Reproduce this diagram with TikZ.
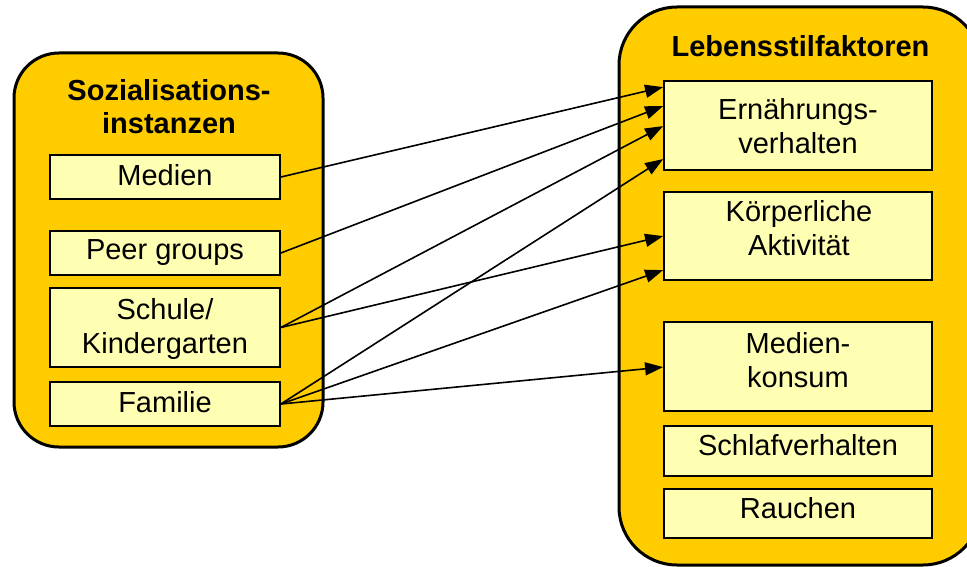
\documentclass[tikz,border=0pt]{standalone}
\usepackage{fontspec}
\setmainfont{Liberation Sans}
\usetikzlibrary{arrows.meta}
\definecolor{gold}{HTML}{FFCC00}
\definecolor{paleyellow}{HTML}{FFFFB3}
\tikzset{
  outerbox/.style={draw=black, line width=3pt, fill=gold, rectangle, inner sep=0pt},
  inbox/.style={draw=black, line width=1.8pt, fill=paleyellow, rectangle, inner sep=0pt},
  lbl/.style={align=center, inner sep=0pt, font=\fontsize{29}{34}\selectfont},
  onelbl/.style={lbl, text height=20.8pt, text depth=0pt},
  ttl/.style={align=center, inner sep=0pt, font=\fontsize{29}{33}\selectfont\bfseries},
  arr/.style={line width=1.6pt, -{Triangle[length=18pt,width=13pt]}}
}
\begin{document}
\begin{tikzpicture}[x=1pt,y=-1pt]
\useasboundingbox (0,0) rectangle (967,567);
\clip (0,0) rectangle (967,567);
% outer boxes
\node[outerbox, rounded corners=45pt, minimum width=309pt, minimum height=394pt] (soz) at (168.5,250) {};
\node[outerbox, rounded corners=58pt, minimum width=362pt, minimum height=558pt] (leb) at (800,286) {};
% titles
\node[ttl] (sozT) at (169,106.5) {Sozialisations-\\instanzen};
\node[ttl, text height=21pt, text depth=0pt] (lebT) at (800.5,46) {Lebensstilfaktoren};
% left inner boxes
\node[inbox, minimum width=230pt, minimum height=44pt] (medien) at (165,177) {};
\node[inbox, minimum width=230pt, minimum height=44pt] (peer) at (165,253) {};
\node[inbox, minimum width=230pt, minimum height=79pt] (schule) at (165,327.5) {};
\node[inbox, minimum width=230pt, minimum height=44pt] (familie) at (165,404) {};
\node[onelbl] (medienT) at (165,175) {Medien};
\node[onelbl] (peerT) at (165,249.5) {Peer groups};
\node[lbl] (schuleT) at (165,329.5) {Schule/\\Kindergarten};
\node[onelbl] (familieT) at (165,402) {Familie};
% right inner boxes
\node[inbox, minimum width=268pt, minimum height=89pt] (ern) at (798,125.5) {};
\node[inbox, minimum width=268pt, minimum height=88pt] (koerp) at (798,236) {};
\node[inbox, minimum width=268pt, minimum height=89pt] (medkon) at (798,366.5) {};
\node[inbox, minimum width=268pt, minimum height=50pt] (schlaf) at (798,451) {};
\node[inbox, minimum width=268pt, minimum height=49pt] (rauchen) at (798,513.5) {};
\node[lbl] (ernT) at (798,126) {Ernährungs-\\verhalten};
\node[lbl] (koerpT) at (799,228.5) {Körperliche\\Aktivität};
\node[lbl] (medkonT) at (798,360) {Medien-\\konsum};
\node[onelbl] (schlafT) at (798,445) {Schlafverhalten};
\node[onelbl] (rauchenT) at (798,508) {Rauchen};
% arrows
\draw[arr] (medien.east) -- ([yshift=-7pt]ern.north west);
\draw[arr] (peer.east) -- ([yshift=-26pt]ern.north west);
\draw[arr] (schule.east) -- ([yshift=-46pt]ern.north west);
\draw[arr] (schule.east) -- ([yshift=-45pt]koerp.north west);
\draw[arr] (familie.east) -- ([yshift=-79pt]ern.north west);
\draw[arr] (familie.east) -- ([yshift=-79pt]koerp.north west);
\draw[arr] (familie.east) -- ([yshift=-46pt]medkon.north west);
\end{tikzpicture}
\end{document}
